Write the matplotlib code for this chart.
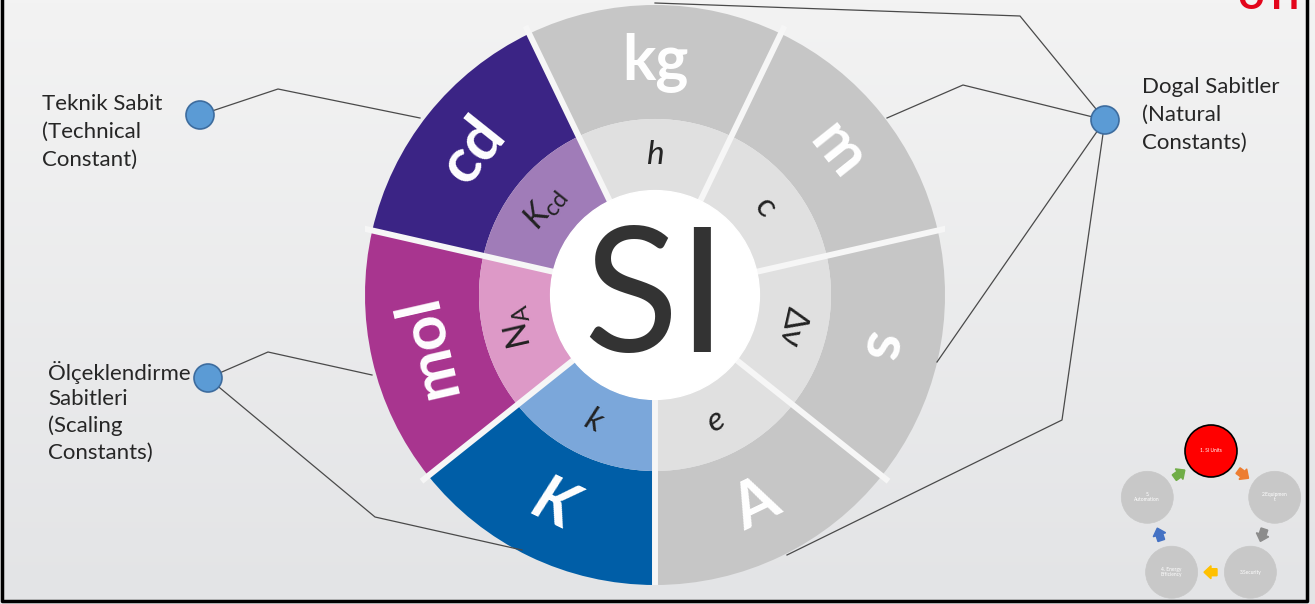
import numpy as np
import matplotlib.pyplot as plt
from matplotlib.patches import Circle, FancyArrow
from matplotlib.colors import LinearSegmentedColormap

plt.rcParams['font.family'] = ['Lato', 'DejaVu Sans']
plt.rcParams['mathtext.fontset'] = 'custom'
plt.rcParams['mathtext.rm'] = 'Lato'
plt.rcParams['mathtext.it'] = 'Lato:italic'
plt.rcParams['mathtext.fallback'] = 'stixsans'

# SI base units (outer ring) and the constants that define them (inner ring)
units = ['A', 's', 'm', 'kg', 'cd', 'mol', 'K']
constants = ['$e$', 'Δν', 'c', '$h$', r'$K_{\mathrm{cd}}$', r'$\mathrm{N}_{\mathrm{A}}$', '$k$']
shares = [1, 1, 1, 1, 1, 1, 1]
outer_colors = ['#c6c6c6', '#c6c6c6', '#c6c6c6', '#c6c6c6', '#3b2485', '#a8358f', '#005ea7']
inner_colors = ['#e0e0e0', '#e0e0e0', '#e0e0e0', '#e0e0e0', '#a07cb8', '#dd99c7', '#7ba7da']

# callout groups
group_labels = [['Teknik Sabit', '(Technical', 'Constant)'],
                ['Dogal Sabitler', '(Natural', 'Constants)'],
                ['Ölçeklendirme', 'Sabitleri', '(Scaling', 'Constants)']]

# small process cycle in the corner
steps = ['1. SI Units', '2.Equipmen\nt', '3.Security', '4. Energy\nEfficiency', '5.\nAutomation']
step_colors = ['#ff0000', '#c8c8c8', '#c8c8c8', '#c8c8c8', '#c8c8c8']
arrow_colors = ['#ed7d31', '#8c8c8c', '#ffc000', '#4472c4', '#70ad47']

W, H = 1315, 604
R_IN = 0.607
R_CORE = 0.36

fig = plt.figure(figsize=(W / 100, H / 100), dpi=100)

# background
bg = fig.add_axes([0, 0, 1, 1])
bg.axis('off')
cmap = LinearSegmentedColormap.from_list('bg', ['#f3f3f3', '#e3e4e6'])
bg.imshow(np.linspace(0, 1, 200)[:, None], cmap=cmap, aspect='auto', extent=[0, W, H, 0])
bg.set_xlim(0, W)
bg.set_ylim(H, 0)

# wheel
cx, cy, rad = 655, 295, 290
ax = fig.add_axes([(cx - rad) / W, (H - cy - rad) / H, 2 * rad / W, 2 * rad / H])
outer, _ = ax.pie(shares, radius=1, startangle=-90, counterclock=True, colors=outer_colors,
                  wedgeprops=dict(width=1 - R_IN, linewidth=0))
inner, _ = ax.pie(shares, radius=R_IN, startangle=-90, counterclock=True, colors=inner_colors,
                  wedgeprops=dict(width=R_IN - R_CORE, linewidth=0))
ax.add_patch(Circle((0, 0), R_CORE, color='white', zorder=3))
for w in outer:
    t = np.deg2rad(w.theta1)
    ax.plot([0.3 * np.cos(t), 1.03 * np.cos(t)], [0.3 * np.sin(t), 1.03 * np.sin(t)],
            color='#f6f6f6', lw=4.3, solid_capstyle='butt', zorder=2)

for w, u, c in zip(outer, units, constants):
    mid = (w.theta1 + w.theta2) / 2
    rot = mid - 90
    if mid < -45 or mid > 225:
        rot += 180
    t = np.deg2rad(mid)
    r1 = (1 + R_IN) / 2
    ax.text(r1 * np.cos(t), r1 * np.sin(t), u, rotation=rot, ha='center', va='center',
            color='white', fontsize=45, fontweight='bold',
            fontstyle='italic' if u == 'K' else 'normal', rotation_mode='anchor')
    r2 = (R_IN + R_CORE) / 2
    ax.text(r2 * np.cos(t), r2 * np.sin(t), c, rotation=rot, ha='center', va='center',
            color='#222222', fontsize=24, rotation_mode='anchor')

ax.text(0, -0.025, 'SI', ha='center', va='center', fontsize=126, color='#333333', zorder=4)
ax.set_xlim(-1, 1)
ax.set_ylim(-1, 1)
ax.set_aspect('equal')
ax.axis('off')

# overlay in pixel coordinates
ov = fig.add_axes([0, 0, 1, 1])
ov.set_xlim(0, W)
ov.set_ylim(H, 0)
ov.axis('off')
ov.patch.set_visible(False)

leaders = [
    [(200, 115), (278, 89), (420, 118)],
    [(1105, 120), (1020, 16), (655, 3)],
    [(1105, 120), (963, 85), (887, 118)],
    [(1105, 120), (937, 362)],
    [(1105, 120), (1062, 420), (787, 555)],
    [(208, 378), (268, 352), (372, 375)],
    [(208, 378), (375, 517), (522, 550)],
]
for pts in leaders:
    xs, ys = zip(*pts)
    ov.plot(xs, ys, color='#4a4a4a', lw=0.9, zorder=5)

for x, y in [(200, 115), (1105, 120), (208, 378)]:
    ov.add_patch(Circle((x, y), 14, facecolor='#5b9bd5', edgecolor='#3d6c9e', lw=1.2, zorder=6))

text_pos = [(42, 104, 28), (1142, 87, 28), (48, 372, 27)]
for lines, (x, y, dy) in zip(group_labels, text_pos):
    for i, line in enumerate(lines):
        ov.text(x, y + i * dy, line, ha='left', va='center', fontsize=16, color='#262626',
                zorder=7)

# cut-off logo at top right
ov.text(1236, 9, 'UTPE', ha='left', va='baseline', fontsize=28, fontweight='bold', color='#e3051b')

# process cycle
pcx, pcy, pr = 1211, 518, 67
angles = np.deg2rad([90, 18, -54, -126, 162])
px = pcx + pr * np.cos(angles)
py = pcy - pr * np.sin(angles)
for i, (s, col) in enumerate(zip(steps, step_colors)):
    ov.add_patch(Circle((px[i], py[i]), 26, facecolor=col,
                        edgecolor='black' if i == 0 else col, lw=1.2 if i == 0 else 0.5, zorder=6))
    ov.text(px[i], py[i], s, ha='center', va='center', fontsize=3.5, color='white', zorder=7,
            linespacing=1.1)
for i, col in enumerate(arrow_colors):
    j = (i + 1) % 5
    mx, my = (px[i] + px[j]) / 2, (py[i] + py[j]) / 2
    d = np.array([px[j] - px[i], py[j] - py[i]])
    d = d / np.hypot(*d)
    ov.add_patch(FancyArrow(mx - 6 * d[0], my - 6 * d[1], 6 * d[0], 6 * d[1], width=7,
                            head_width=13, head_length=7, length_includes_head=False,
                            color=col, zorder=6))

# frame
ov.plot([2, 2, 1307, 1307], [0, 601, 601, 0], color='black', lw=2.5, zorder=8)

fig.savefig('out.png', dpi=100)
